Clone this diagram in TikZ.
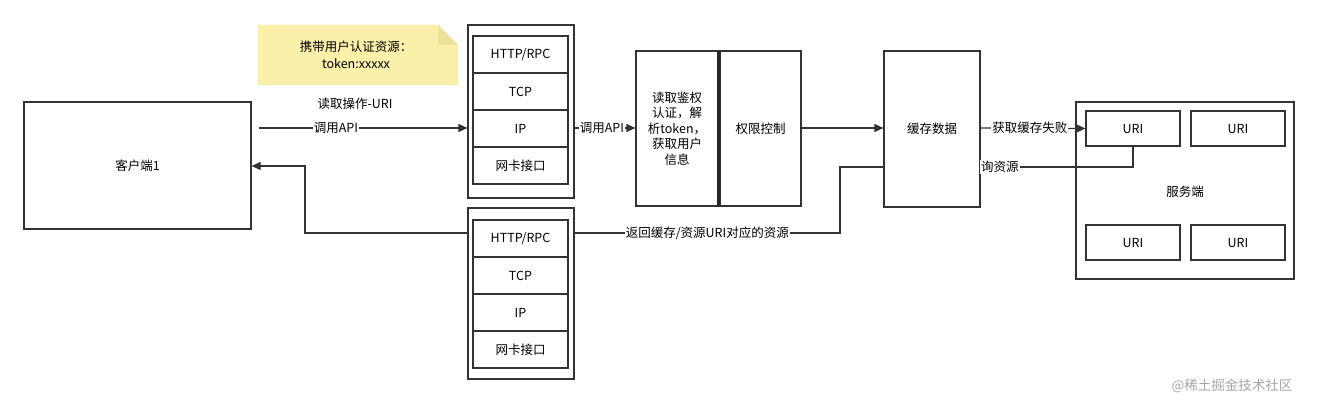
\documentclass[tikz,border=0pt]{standalone}
\usepackage{fontspec}
\setmainfont{Noto Sans CJK SC}
\usetikzlibrary{arrows.meta}
\definecolor{noteY}{HTML}{FBF0AA}
\definecolor{noteF}{HTML}{EFE09A}
\begin{document}
\begin{tikzpicture}[x=1pt,y=-1pt,
  bx/.style={draw=black!80,line width=1.2pt,fill=white,inner sep=0pt,font=\fontsize{12.5}{16}\selectfont},
  ln/.style={draw=black!80,line width=1.2pt},
  ar/.style={ln,-{Triangle[length=9pt,width=8pt]}},
  lb/.style={fill=white,inner sep=1pt,font=\fontsize{12.5}{16}\selectfont}]
\useasboundingbox (0,0) rectangle (1318,404);
% client
\node[bx,minimum width=227pt,minimum height=127pt] (cl) at (137.5,165.5) {客户端1};
% note
\fill[noteY] (258,25) -- (438,25) -- (458,45) -- (458,85) -- (258,85) -- cycle;
\fill[noteF] (438,25) -- (458,45) -- (438,45) -- cycle;
\node[font=\fontsize{12.5}{17}\selectfont,align=center] (note) at (356,55) {携带用户认证资源：\\token:xxxxx};
% stacks
\node[bx,minimum width=106pt,minimum height=173pt] (s1) at (521,111.5) {};
\foreach \t/\y/\n in {{HTTP/RPC}/54.5/a,TCP/91.5/b,IP/128.5/c,网卡接口/165.5/d}
  \node[bx,minimum width=95pt,minimum height=37pt] (s1\n) at (520.5,\y) {\t};
\node[bx,minimum width=106pt,minimum height=171pt] (s2) at (521,293.5) {};
\foreach \t/\y/\n in {{HTTP/RPC}/238.5/a,TCP/275.5/b,IP/312.5/c,网卡接口/349.5/d}
  \node[bx,minimum width=95pt,minimum height=37pt] (s2\n) at (520.5,\y) {\t};
% auth
\node[bx,minimum width=82pt,minimum height=155pt,align=center,font=\fontsize{12.5}{15.5}\selectfont] (au) at (677,128.5) {读取鉴权\\认证，解\\析token，\\获取用户\\信息};
\node[bx,minimum width=81pt,minimum height=155pt] (pc) at (760.5,128.5) {权限控制};
\draw[line width=2.4pt,black!85] (718.5,51) -- (718.5,206);
% cache
\node[bx,minimum width=96pt,minimum height=156pt] (ca) at (932,129) {缓存数据};
% server
\node[bx,minimum width=218pt,minimum height=177pt] (sv) at (1185,190.5) {};
\node[font=\fontsize{12.5}{16}\selectfont] (svl) at (1185,192) {服务端};
\node[bx,minimum width=94pt,minimum height=35pt] (u1) at (1133,128.5) {URI};
\node[bx,minimum width=94pt,minimum height=35pt] (u2) at (1238,128.5) {URI};
\node[bx,minimum width=94pt,minimum height=35pt] (u3) at (1133,242.5) {URI};
\node[bx,minimum width=94pt,minimum height=35pt] (u4) at (1238,242.5) {URI};
% connectors
\node[font=\fontsize{12.5}{16}\selectfont] (l0) at (355,104) {读取操作-URI};
\draw[ar] ([xshift=7pt]cl.east |- 0,128) -- node[lb,pos=0.37]{调用API} (s1.west |- 0,128);
\draw[ar] (s1.east |- 0,128) -- node[lb,pos=0.45]{调用API} (au.west |- 0,128);
\draw[ar] (pc.east |- 0,128) -- (ca.west |- 0,128);
\draw[ar] (ca.east |- 0,128) -- node[lb,pos=0.47]{获取缓存失败} (u1.west);
\draw[ln] (u1.south) |- (ca.east |- 0,167);
\node[lb,anchor=west] (l4) at (980,167) {询资源};
\draw[ln] (ca.west |- 0,167) -| (840,233) -- node[lb]{返回缓存/资源URI对应的资源} (s2.east |- 0,233);
\draw[ar] (s2.west |- 0,233) -| (305,166) -- (cl.east |- 0,166);
\node[text=black!35,font=\fontsize{13.5}{16}\selectfont] (wm) at (1232,386) {@稀土掘金技术社区};
\end{tikzpicture}
\end{document}
